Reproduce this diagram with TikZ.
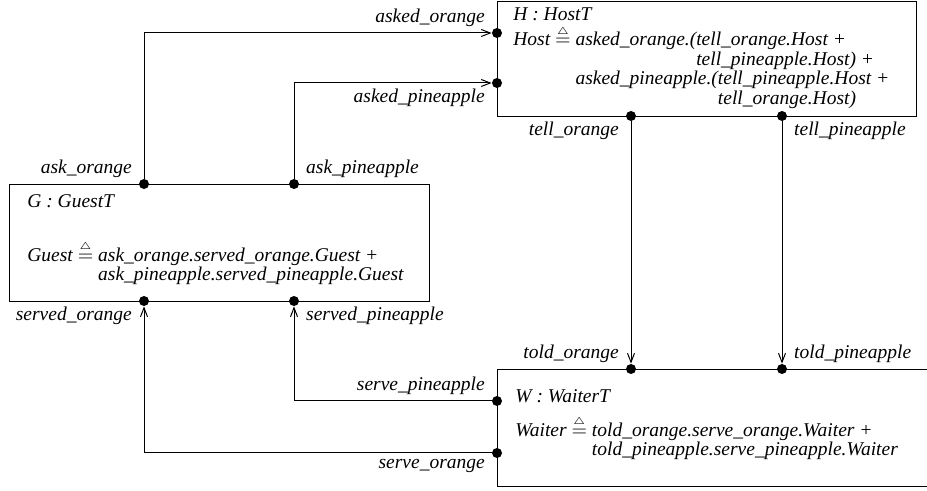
\documentclass[tikz,border=0pt]{standalone}
\usepackage{fontspec}
\setmainfont{Liberation Serif}
\usetikzlibrary{arrows.meta}
\newcommand{\trieq}{\mathrel{\stackrel{\scriptscriptstyle\triangle}{=}}}

\begin{document}
\begin{tikzpicture}[x=0.5pt, y=-0.5pt,
    every node/.style={font=\fontsize{9.75}{9.75}\selectfont\itshape},
    proc/.style={draw, line width=0.5pt, anchor=north west, inner sep=0pt},
    txt/.style={anchor=base west, align=left, inner sep=0pt,
      font={\fontsize{9.75}{9.75}\selectfont\itshape\lineskiplimit-20pt\relax}},
    port/.style={circle, fill, inner sep=0pt, minimum size=5pt},
    lbl/.style={inner xsep=4pt, inner ysep=1pt},
    arr/.style={line width=0.5pt, -{Straight Barb[length=4.5pt,width=3.5pt]}}
    ]
    \useasboundingbox (0,0) rectangle (927,491);
    % processes
    \node[proc, minimum width=209.5pt, minimum height=57.5pt] (H) at (497,1) {};
    \node[proc, minimum width=210pt, minimum height=58.5pt] (G) at (9,184) {};
    \node[proc, minimum width=225pt, minimum height=58.5pt] (W) at (497,369) {};
    % base of a multi-line node = its last line
    \node[txt] (Htxt) at (513,104.5) {H : HostT\\[2.9pt]
      Host $\trieq$ asked\_orange.(tell\_orange.Host +\\
      \hphantom{Host $\trieq$ asked\_orange.(}tell\_pineapple.Host) +\\
      \hphantom{Host $\trieq$ }asked\_pineapple.(tell\_pineapple.Host +\\
      \hphantom{Host $\trieq$ asked\_pineapple.(}tell\_orange.Host)};
    \node[txt] (Gtxt) at (27,281) {G : GuestT\\[17.1pt]
      Guest $\trieq$ ask\_orange.served\_orange.Guest +\\
      \hphantom{Guest $\trieq$ }ask\_pineapple.served\_pineapple.Guest};
    \node[txt] (Wtxt) at (515,456) {W : WaiterT\\[7.25pt]
      Waiter $\trieq$ told\_orange.serve\_orange.Waiter +\\
      \hphantom{Waiter $\trieq$ }told\_pineapple.serve\_pineapple.Waiter};
    % ports
    \node[port, label={[lbl]above left:ask\_orange}] (askO) at (144,184) {};
    \node[port, label={[lbl]above right:ask\_pineapple}] (askP) at (294,184) {};
    \node[port, label={[lbl]below left:served\_orange}] (servedO) at (144,301) {};
    \node[port, label={[lbl]below right:served\_pineapple}] (servedP) at (294,301) {};
    \node[port, label={[lbl]above left:asked\_orange}] (askedO) at (497,33) {};
    \node[port, label={[lbl]below left:asked\_pineapple}] (askedP) at (497,83) {};
    \node[port, label={[lbl]below left:tell\_orange}] (tellO) at (631,116) {};
    \node[port, label={[lbl]below right:tell\_pineapple}] (tellP) at (782,116) {};
    \node[port, label={[lbl]above left:told\_orange}] (toldO) at (631,369) {};
    \node[port, label={[lbl]above right:told\_pineapple}] (toldP) at (782,369) {};
    \node[port, label={[lbl]above left:serve\_pineapple}] (serveP) at (497,401) {};
    \node[port, label={[lbl]below left:serve\_orange}] (serveO) at (497,453) {};
    % channels
    \draw[arr] (askO) |- (askedO);
    \draw[arr] (askP) |- (askedP);
    \draw[arr] (tellO) -- (toldO);
    \draw[arr] (tellP) -- (toldP);
    \draw[arr] (serveP) -| (servedP);
    \draw[arr] (serveO) -| (servedO);
\end{tikzpicture}
\end{document}
